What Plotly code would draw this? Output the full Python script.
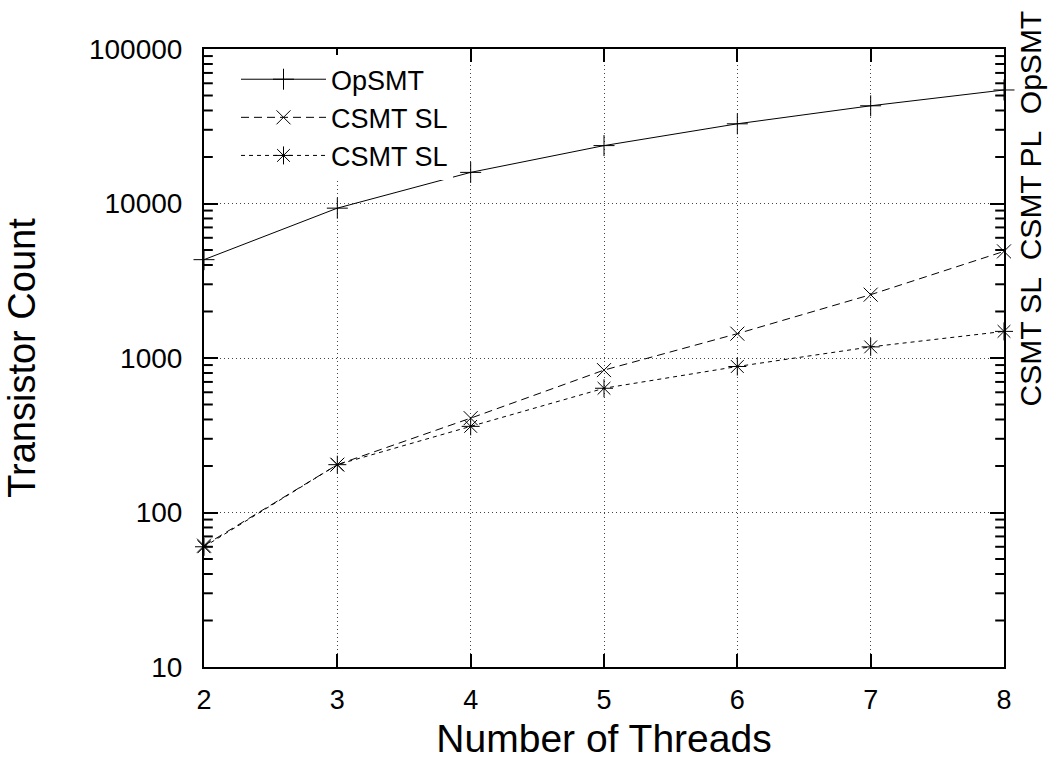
import math
import plotly.graph_objects as go

threads = [2, 3, 4, 5, 6, 7, 8]
opsmt = [4330, 9330, 15900, 23700, 32800, 42900, 54300]
csmt_sl = [61, 204, 408, 835, 1437, 2570, 4900]
csmt_pl = [60, 204, 361, 637, 881, 1180, 1487]

series_names = ["OpSMT", "CSMT SL", "CSMT SL"]
y_tickvals = [10, 100, 1000, 10000, 100000]
y_ticktext = ["10", "100", "1000", "10000", "100000"]
y_minor_tickvals = [m * d for d in [10, 100, 1000, 10000] for m in range(2, 10)]
x_tickvals = [2, 3, 4, 5, 6, 7, 8]
x_title = "Number of Threads"
y_title = "Transistor Count"
right_label = "CSMT SL&nbsp;&nbsp;CSMT PL&nbsp;&nbsp;OpSMT"

FONT = "Liberation Sans, Arial, sans-serif"
Y_LOG_RANGE = [1, 5]

fig = go.Figure()
fig.add_trace(go.Scatter(
    x=threads, y=opsmt, name=series_names[0], mode="lines+markers",
    line=dict(color="black", width=1, dash="solid"), cliponaxis=False,
    marker=dict(symbol="cross-thin", size=15, color="black",
                line=dict(color="black", width=1)),
))
fig.add_trace(go.Scatter(
    x=threads, y=csmt_sl, name=series_names[1], mode="lines+markers",
    line=dict(color="black", width=1, dash="8px,5px"), cliponaxis=False,
    marker=dict(symbol="x-thin", size=14, color="black",
                line=dict(color="black", width=1)),
))
fig.add_trace(go.Scatter(
    x=threads, y=csmt_pl, name=series_names[2], mode="lines+markers",
    line=dict(color="black", width=1, dash="4px,4px"), cliponaxis=False,
    marker=dict(symbol="asterisk", size=15, color="black",
                line=dict(color="black", width=1)),
))

# minor tick marks on the left and right borders of the log axis,
# placed in paper units derived from the axis range
minor_len = 0.011
span = Y_LOG_RANGE[1] - Y_LOG_RANGE[0]
for v in y_minor_tickvals:
    py = (math.log10(v) - Y_LOG_RANGE[0]) / span
    for x0, x1 in ((0.0, minor_len), (1.0 - minor_len, 1.0)):
        fig.add_shape(type="line", xref="paper", yref="paper",
                      x0=x0, x1=x1, y0=py, y1=py,
                      line=dict(color="black", width=2), layer="above")

fig.update_layout(
    width=1049, height=765,
    margin=dict(l=204, r=45, t=49, b=95),
    paper_bgcolor="white", plot_bgcolor="white",
    font=dict(family=FONT, color="black", size=27),
    showlegend=True,
    legend=dict(
        x=0.04, y=0.99, xanchor="left", yanchor="top",
        bgcolor="white", borderwidth=0,
        font=dict(family=FONT, size=27, color="black"),
        itemwidth=85, tracegroupgap=0,
    ),
    xaxis=dict(
        range=[2, 8], tickvals=x_tickvals,
        showline=True, linecolor="black", linewidth=2, mirror="ticks",
        ticks="inside", ticklen=13, tickwidth=2, tickcolor="black",
        showgrid=True, gridcolor="#444", griddash="1px,3px", gridwidth=1,
        zeroline=False,
        tickfont=dict(family=FONT, size=27, color="black"),
        title=dict(text=x_title, font=dict(family=FONT, size=39, color="black"), standoff=10),
        ticklabelstandoff=8,
    ),
    yaxis=dict(
        type="log", range=Y_LOG_RANGE,
        tickmode="array", tickvals=y_tickvals, ticktext=y_ticktext,
        showline=True, linecolor="black", linewidth=2, mirror="ticks",
        ticks="inside", ticklen=14, tickwidth=2, tickcolor="black",
        showgrid=True, gridcolor="#444", griddash="1px,3px", gridwidth=1,
        zeroline=False,
        tickfont=dict(family=FONT, size=28, color="black"),
        title=dict(text=y_title, font=dict(family=FONT, size=38, color="black"), standoff=42),
        ticklabelstandoff=14,
    ),
    annotations=[dict(
        text=right_label, xref="paper", yref="paper",
        x=1.0325, y=0.742, xanchor="center", yanchor="middle",
        textangle=-90, showarrow=False,
        font=dict(family=FONT, size=30, color="black"),
    )],
)

fig.write_html("out.html")
